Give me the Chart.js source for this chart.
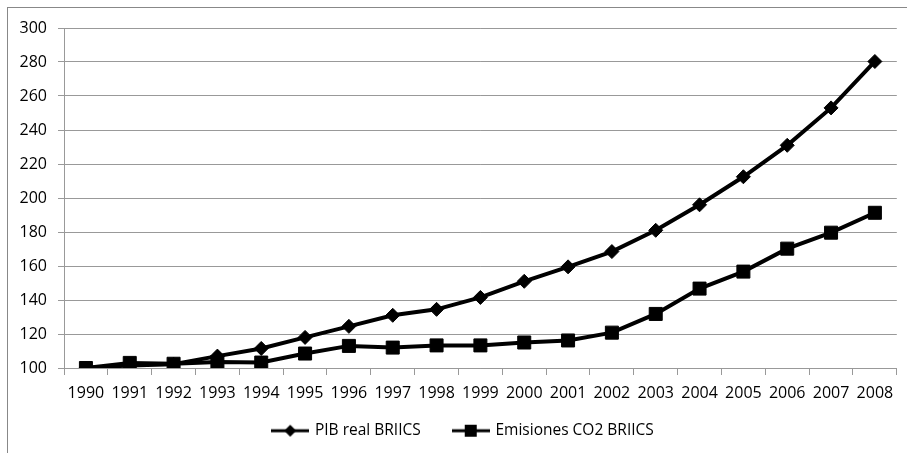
<!DOCTYPE html>
<html>
<head>
<meta charset="utf-8">
<script src="https://cdn.jsdelivr.net/npm/chart.js@4/dist/chart.umd.min.js"></script>
<style>
  html, body { margin: 0; padding: 0; background: #fff; }
  #wrap { position: relative; width: 907px; height: 453px; overflow: hidden; }
  #frame { position: absolute; left: 7px; top: 7px; width: 960px; height: 500px; border: 1px solid #888; pointer-events: none; }
  canvas { position: absolute; left: 0; top: 0; }
</style>
</head>
<body>
<div id="wrap">
  <div id="frame"></div>
  <canvas id="c" width="907" height="453"></canvas>
</div>
<script>
const years = ['1990','1991','1992','1993','1994','1995','1996','1997','1998','1999','2000','2001','2002','2003','2004','2005','2006','2007','2008'];
const pibReal = [100, 101.5, 102.2, 107, 111.5, 118, 124.5, 131, 134.5, 141.5, 151, 159.5, 168.5, 181, 196, 212.5, 231, 253, 280.3];
const emisionesCO2 = [100, 103, 102.5, 103.5, 103.2, 108.5, 113, 112, 113.3, 113.3, 115, 116.2, 120.8, 131.8, 146.7, 156.7, 170.2, 179.6, 191.3];
const seriesNames = ['PIB real BRIICS', 'Emisiones CO2 BRIICS'];
const yMin = 100, yMax = 300, yStep = 20;

const FONT = "'Open Sans', sans-serif";

function legendImage(kind) {
  const cv = document.createElement('canvas');
  cv.width = 38; cv.height = 16;
  const g = cv.getContext('2d');
  g.strokeStyle = '#000'; g.lineWidth = 3;
  g.beginPath(); g.moveTo(0, 8); g.lineTo(38, 8); g.stroke();
  g.fillStyle = '#000';
  if (kind === 'diamond') {
    g.beginPath(); g.moveTo(19, 2); g.lineTo(25, 8); g.lineTo(19, 14); g.lineTo(13, 8); g.closePath(); g.fill();
  } else {
    g.fillRect(13, 2, 12, 12);
  }
  return cv;
}
const legendImgs = [legendImage('diamond'), legendImage('square')];

const legendTweak = {
  id: 'legendTweak',
  beforeLayout(chart) {
    const lg = chart.legend;
    if (lg && !lg._patched) {
      const f = lg.fit.bind(lg);
      lg.fit = function () { f(); this.height = 51; };
      lg._patched = true;
    }
  },
  afterLayout(chart) {
    const lg = chart.legend;
    if (lg) { lg.left += 15; lg.right += 15; lg.top -= 12; lg.bottom -= 12; }
  }
};

new Chart(document.getElementById('c'), {
  type: 'line',
  data: {
    labels: years,
    datasets: [
      {
        label: seriesNames[0],
        data: pibReal,
        borderColor: '#000',
        backgroundColor: '#000',
        borderWidth: 4,
        pointStyle: 'rectRot',
        pointRadius: 7,
        pointBorderWidth: 1,
        tension: 0
      },
      {
        label: seriesNames[1],
        data: emisionesCO2,
        borderColor: '#000',
        backgroundColor: '#000',
        borderWidth: 4,
        pointStyle: 'rect',
        pointRadius: 9.2,
        pointBorderWidth: 1,
        tension: 0
      }
    ]
  },
  plugins: [legendTweak],
  options: {
    responsive: false,
    animation: false,
    events: [],
    layout: { padding: { left: 0, right: 10, top: 28, bottom: 0 } },
    scales: {
      x: {
        offset: true,
        grid: { display: true, drawOnChartArea: false, drawTicks: true, tickLength: 7, offset: true, color: '#999', lineWidth: 1 },
        border: { display: true, color: '#999', width: 1 },
        ticks: { color: '#000', font: { family: FONT, size: 16 }, padding: 9, autoSkip: false, maxRotation: 0 },
        afterFit: s => { s.height = 34; }
      },
      y: {
        min: yMin, max: yMax,
        grid: { color: '#999', lineWidth: 1, tickLength: 6, drawTicks: true },
        border: { display: true, color: '#999', width: 1 },
        ticks: { stepSize: yStep, color: '#000', font: { family: FONT, size: 16 }, padding: 11 },
        afterFit: s => { s.width = 64; }
      }
    },
    plugins: {
      tooltip: { enabled: false },
      legend: {
        position: 'bottom',
        labels: {
          color: '#000',
          font: { family: FONT, size: 15.5 },
          usePointStyle: true,
          pointStyleWidth: 34,
          padding: 33,
          generateLabels: chart => chart.data.datasets.map((d, i) => ({
            text: d.label,
            pointStyle: legendImgs[i],
            fillStyle: '#000',
            strokeStyle: '#000',
            lineWidth: 0,
            hidden: false,
            datasetIndex: i
          }))
        }
      }
    }
  }
});
</script>
</body>
</html>
